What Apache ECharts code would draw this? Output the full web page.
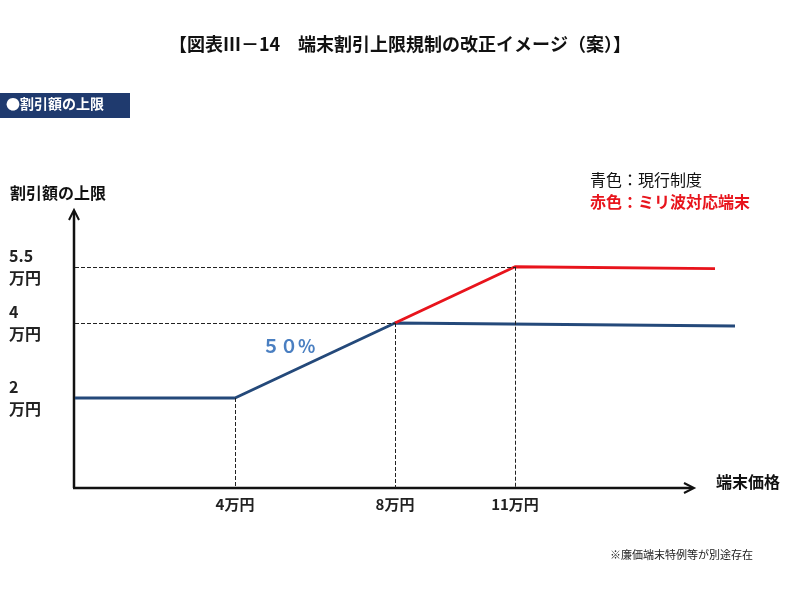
<!DOCTYPE html><html><head><meta charset="utf-8"><script src="https://cdn.jsdelivr.net/npm/echarts@6/dist/echarts.min.js"></script>
<style>body{margin:0}#c{width:800px;height:599px}</style></head><body><div id="c"></div><script>
const currentRule=[[0,2],[4,2],[8,4],[16.5,3.92]];
const mmWaveRule=[[8,4],[11,5.5],[16,5.45]];
const yTicks=[2,4,5.5];
const yTickLabels={2:'2\n万円',4:'4\n万円',5.5:'5.5\n万円'};
const xTicks=[4,8,11];
const xTickLabels={4:'4万円',8:'8万円',11:'11万円'};
const F='"Noto Sans CJK JP",sans-serif';
const ch=echarts.init(document.getElementById('c'));
const dash={type:'dashed',color:'#222',width:1};
ch.setOption({
 animation:false,
 grid:{left:75,right:45,top:210.5,bottom:111},
 xAxis:{type:'value',min:0,max:17,axisLine:{show:false},axisTick:{show:false},splitLine:{show:false},
  axisLabel:{customValues:xTicks,formatter:v=>xTickLabels[v]||'',fontFamily:F,fontWeight:'bold',fontSize:15,color:'#222',margin:9}},
 yAxis:{type:'value',min:-0.4,max:7,axisLine:{show:false},axisTick:{show:false},splitLine:{show:false},
  axisLabel:{customValues:yTicks,formatter:v=>yTickLabels[v]||'',fontFamily:F,fontWeight:'bold',fontSize:16,color:'#222',align:'left',margin:66,lineHeight:22}},
 series:[
  {type:'line',data:currentRule,symbol:'none',lineStyle:{color:'#24497a',width:3},
   markLine:{silent:true,symbol:'none',label:{show:false},lineStyle:dash,data:[
    [{coord:[0,5.5]},{coord:[11,5.5]}],[{coord:[0,4]},{coord:[8,4]}],
    [{coord:[4,2]},{coord:[4,-0.4]}],[{coord:[8,4]},{coord:[8,-0.4]}],[{coord:[11,5.5]},{coord:[11,-0.4]}]]}},
  {type:'line',data:mmWaveRule,symbol:'none',lineStyle:{color:'#e8141c',width:3},z:3}
 ],
 graphic:[
  {type:'text',left:'center',top:35,style:{text:'【図表Ⅲ－14　端末割引上限規制の改正イメージ（案）】',font:'bold 18px '+F,fill:'#111'}},
  {type:'rect',shape:{x:0,y:93,width:130,height:25},style:{fill:'#1f3a6e'}},
  {type:'text',x:6,y:97,style:{text:'●割引額の上限',font:'bold 14px '+F,fill:'#fff'}},
  {type:'text',x:10,y:185,style:{text:'割引額の上限',font:'bold 16px '+F,fill:'#111'}},
  {type:'text',x:716,y:474,style:{text:'端末価格',font:'bold 16px '+F,fill:'#111'}},
  {type:'text',x:590,y:172,style:{text:'青色：現行制度',font:'16px '+F,fill:'#111'}},
  {type:'text',x:590,y:194,style:{text:'赤色：ミリ波対応端末',font:'bold 16px '+F,fill:'#e8141c'}},
  {type:'text',x:262,y:337,style:{text:'５０%',font:'bold 18px '+F,fill:'#4a7fc1'}},
  {type:'text',x:610,y:549,style:{text:'※廉価端末特例等が別途存在',font:'11px '+F,fill:'#222'}},
  {type:'polyline',shape:{points:[[73,488],[692,488]]},style:{stroke:'#111',lineWidth:2.5}},
  {type:'polyline',shape:{points:[[684,483],[694,488],[684,493]]},style:{stroke:'#111',lineWidth:2,fill:null}},
  {type:'polyline',shape:{points:[[74,488],[74,212]]},style:{stroke:'#111',lineWidth:2.5}},
  {type:'polyline',shape:{points:[[69,220],[74,210],[79,220]]},style:{stroke:'#111',lineWidth:2,fill:null}}
 ]
});
</script></body></html>
